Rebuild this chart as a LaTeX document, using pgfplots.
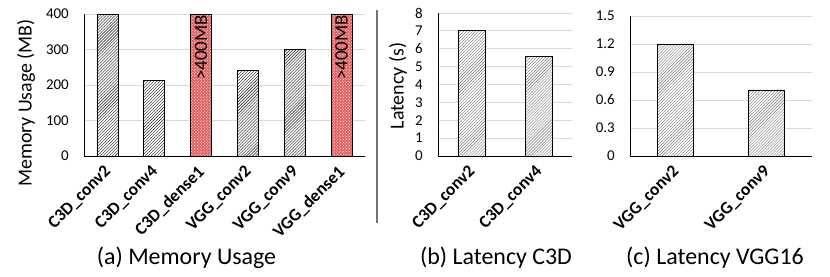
\documentclass[border=0pt]{standalone}
\usepackage{graphicx}
\usepackage{pgfplots}
\pgfplotsset{compat=1.18}
\usetikzlibrary{patterns}
\usepackage{fontspec}
\setmainfont{Carlito}
\definecolor{redbar}{RGB}{224,96,96}
\definecolor{gridc}{RGB}{217,217,217}
\newcommand{\xlab}[1]{\rotatebox{45}{\fontsize{17.5}{17.5}\selectfont\bfseries #1}}
\tikzset{
  xl/.style={anchor=north east, inner sep=0pt, xshift=6bp, yshift=-8bp},
  hatchA/.style={draw=black, line width=0.8bp, fill=white, postaction={pattern=north east lines, pattern color=black!90}},
  hatchB/.style={draw=black, line width=0.8bp, fill=white, postaction={pattern=north east lines, pattern color=black!55}},
  redB/.style={draw=black, line width=0.8bp, fill=redbar, postaction={pattern=crosshatch dots, pattern color=white}},
}
\begin{document}
\begin{tikzpicture}
\useasboundingbox (0bp,0bp) rectangle (830bp,277bp);
\pgfplotsset{
  myax/.style={
    scale only axis,
    axis x line=bottom, axis y line=left,
    axis line style={black, line width=0.8bp, -},
    ymajorgrids, grid style={gridc, line width=0.8bp},
    major tick length=0pt,
    ymin=0,
    yticklabel style={font=\fontsize{15}{15}\selectfont, inner sep=0pt, xshift=-15bp},
    xticklabels={},
    ybar, bar shift=0pt,
    clip=false,
    /pgf/number format/assume math mode=true,
  },
}
% (a)
\begin{axis}[myax, at={(84bp,121bp)}, anchor=south west, width=281bp, height=142bp,
  xmin=-0.5, xmax=5.5, ymax=400, ytick={0,100,200,300,400},
  xtick={0,1,2,3,4,5},
  bar width=21bp]
\addplot[hatchA] coordinates {(0,400) (1,212) (3,240) (4,300)};
\addplot[redB] coordinates {(2,400) (5,400)};
\node[rotate=90, anchor=east, inner sep=1bp, font=\fontsize{19}{19}\selectfont] at (axis cs:2,400) {>400MB};
\node[rotate=90, anchor=east, inner sep=1bp, font=\fontsize{19}{19}\selectfont] at (axis cs:5,400) {>400MB};
\node[xl] at (axis cs:0,0) {\xlab{C3D\_conv2}};
\node[xl] at (axis cs:1,0) {\xlab{C3D\_conv4}};
\node[xl] at (axis cs:2,0) {\xlab{C3D\_dense1}};
\node[xl] at (axis cs:3,0) {\xlab{VGG\_conv2}};
\node[xl] at (axis cs:4,0) {\xlab{VGG\_conv9}};
\node[xl] at (axis cs:5,0) {\xlab{VGG\_dense1}};
\end{axis}
% (b)
\begin{axis}[myax, at={(438bp,121bp)}, anchor=south west, width=134bp, height=143bp,
  xmin=-0.5, xmax=1.5, ymax=8, ytick={0,1,2,3,4,5,6,7,8},
  xtick={0,1},
  bar width=27bp]
\addplot[hatchB] coordinates {(0,7.05) (1,5.55)};
\node[xl] at (axis cs:0,0) {\xlab{C3D\_conv2}};
\node[xl] at (axis cs:1,0) {\xlab{C3D\_conv4}};
\end{axis}
% (c)
\begin{axis}[myax, at={(630bp,121bp)}, anchor=south west, width=182bp, height=140bp,
  xmin=-0.5, xmax=1.5, ymax=1.5, ytick={0,0.3,0.6,0.9,1.2,1.5},
  yticklabels={0,0.3,0.6,0.9,1.2,1.5},
  xtick={0,1},
  bar width=36bp]
\addplot[hatchB] coordinates {(0,1.2) (1,0.7)};
\node[xl] at (axis cs:0,0) {\xlab{VGG\_conv2}};
\node[xl] at (axis cs:1,0) {\xlab{VGG\_conv9}};
\end{axis}
% labels
\node[rotate=90, font=\fontsize{20}{20}\selectfont] at (26bp,174bp) {Memory Usage (MB)};
\node[rotate=90, font=\fontsize{20}{20}\selectfont] at (398bp,191bp) {Latency (s)};
\draw[black!55, line width=1.2bp] (377bp,54bp) -- (377bp,267bp);
\node[font=\fontsize{24}{24}\selectfont, anchor=base] at (186.5bp,13bp) {(a) Memory Usage};
\node[font=\fontsize{24}{24}\selectfont, anchor=base] at (496bp,13bp) {(b) Latency C3D};
\node[font=\fontsize{24}{24}\selectfont, anchor=base] at (715bp,13bp) {(c) Latency VGG16};
\end{tikzpicture}
\end{document}
